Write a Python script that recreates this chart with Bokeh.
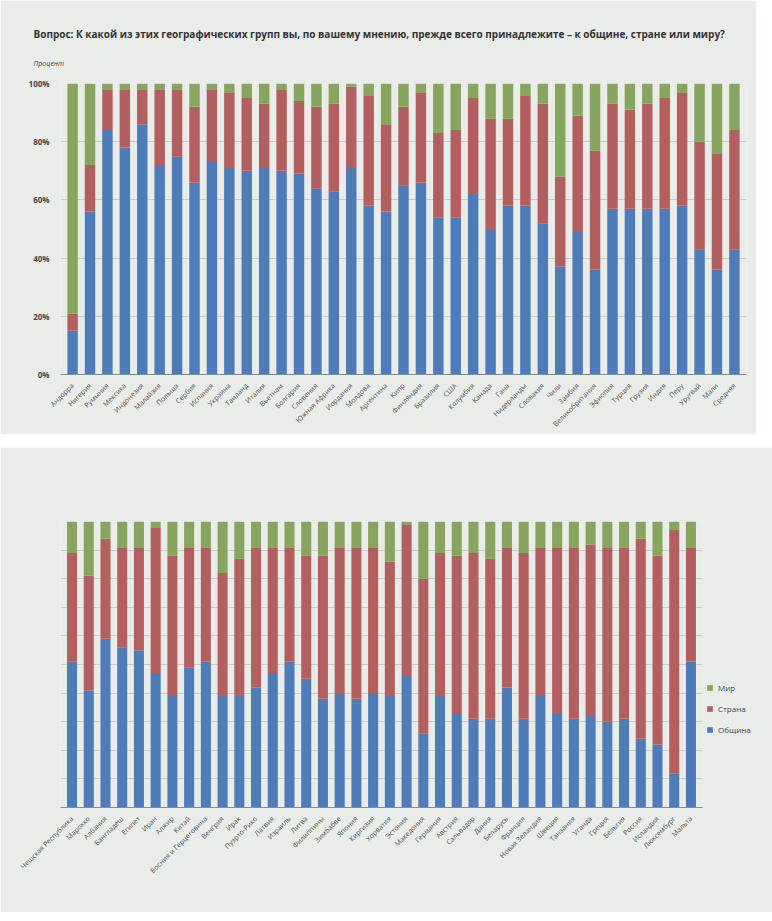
import math
from bokeh.plotting import figure
from bokeh.layouts import column
from bokeh.models import Title, Legend, LegendItem, FixedTicker, Range1d, FactorRange
from bokeh.embed import file_html
from bokeh.resources import INLINE

# ---------------- data ----------------
series_names = ["Община", "Страна", "Мир"]
colors = ["#4d7cb8", "#b45f5f", "#88a55f"]

top_categories = ["Андорра", "Нигерия", "Румыния", "Мексика", "Индонезия",
                  "Малайзия", "Польша", "Сербия", "Испания", "Украина", "Таиланд", "Италия",
                  "Вьетнам", "Болгария", "Словения", "Южная Африка", "Иордания", "Молдова",
                  "Аргентина", "Кипр", "Финляндия", "Бразилия", "США", "Колумбия", "Канада",
                  "Гана", "Нидерланды", "Словакия", "Чили", "Замбия", "Великобритания",
                  "Эфиопия", "Турция", "Грузия", "Индия", "Перу", "Уругвай", "Мали", "Средняя"]
top_community = [15, 56, 84, 78, 86, 72, 75, 66, 73, 71, 70, 71, 70, 69, 64, 63, 71, 58, 56, 65,
                 66, 54, 54, 62, 50, 58, 58, 52, 37, 49, 36, 57, 57, 57, 57, 58, 43, 36, 43]
top_country = [6, 16, 14, 20, 12, 26, 23, 26, 25, 26, 25, 22, 28, 25, 28, 30, 28, 38, 30, 27,
               31, 29, 30, 33, 38, 30, 38, 41, 31, 40, 41, 36, 34, 36, 38, 39, 37, 40, 41]
top_world = [79, 28, 2, 2, 2, 2, 2, 8, 2, 3, 5, 7, 2, 6, 8, 7, 1, 4, 14, 8,
             3, 17, 16, 5, 12, 12, 4, 7, 32, 11, 23, 7, 9, 7, 5, 3, 20, 24, 16]

bottom_categories = ["Чешская Республика", "Марокко", "Албания", "Бангладеш", "Египет", "Иран",
                     "Алжир", "Китай", "Босния и Герцеговина", "Венгрия", "Ирак", "Пуэрто-Рико",
                     "Латвия", "Израиль", "Литва", "Филиппины", "Зимбабве", "Япония", "Киргизия",
                     "Хорватия", "Эстония", "Македония", "Германия", "Австрия", "Сальвадор",
                     "Дания", "Беларусь", "Франция", "Новая Зеландия", "Швеция", "Танзания",
                     "Уганда", "Греция", "Бельгия", "Россия", "Исландия", "Люксембург", "Мальта"]
bottom_community = [51, 41, 59, 56, 55, 47, 39, 49, 51, 39, 39, 42, 47, 51, 45, 38, 40, 38, 40,
                    39, 46, 26, 39, 33, 31, 31, 42, 31, 39, 33, 31, 32, 30, 31, 24, 22, 12, 51]
bottom_country = [38, 40, 35, 35, 36, 51, 49, 42, 40, 43, 48, 49, 44, 40, 43, 50, 51, 53, 51,
                  47, 53, 54, 50, 55, 58, 56, 49, 58, 52, 58, 60, 60, 61, 60, 70, 66, 85, 40]
bottom_world = [11, 19, 6, 9, 9, 2, 12, 9, 9, 18, 13, 9, 9, 9, 12, 12, 9, 9, 9,
                14, 1, 20, 11, 12, 11, 13, 9, 11, 9, 9, 9, 8, 9, 9, 6, 12, 3, 9]

title_text = ("Вопрос: К какой из этих географических групп вы, по вашему мнению, "
              "прежде всего принадлежите – к общине, стране или миру?")
y_title_text = "Процент"
top_ticks = [0, 20, 40, 60, 80, 100]
top_tick_labels = ["0%", "20%", "40%", "60%", "80%", "100%"]
bottom_ticks = [0, 10, 20, 30, 40, 50, 60, 70, 80, 90, 100]

PANEL = "#eaecea"
FONT = "Open Sans"


def style_common(p):
    p.background_fill_color = PANEL
    p.border_fill_color = PANEL
    p.outline_line_color = None
    p.xgrid.grid_line_color = None
    p.ygrid.grid_line_color = "#c9cbc9"
    p.ygrid.grid_line_width = 1
    p.xaxis.major_label_orientation = math.pi / 4
    p.xaxis.major_label_text_font = FONT
    p.xaxis.major_label_text_font_size = "7px"
    p.xaxis.major_label_text_color = "#555555"
    p.xaxis.axis_line_color = "#8a8c8a"
    p.xaxis.major_tick_line_color = None
    p.xaxis.minor_tick_line_color = None
    p.xaxis.major_label_standoff = 4


def stack(p, cats, c, k, w):
    data = {"cat": cats, "Община": c, "Страна": k, "Мир": w}
    rs = p.vbar_stack(series_names, x="cat", width=0.6, color=colors, source=data,
                      line_color=None)
    return rs


# ---------------- top chart ----------------
p1 = figure(x_range=FactorRange(*top_categories, range_padding=0.01), y_range=Range1d(0, 100),
            frame_width=686, frame_height=291, output_backend="svg", toolbar_location=None,
            min_border_left=60, min_border_right=10, min_border_top=83, min_border_bottom=58)
stack(p1, top_categories, top_community, top_country, top_world)
style_common(p1)
p1.yaxis.ticker = FixedTicker(ticks=top_ticks)
p1.yaxis.major_label_overrides = {t: l for t, l in zip(top_ticks, top_tick_labels)}
p1.yaxis.axis_line_color = None
p1.yaxis.major_tick_line_color = None
p1.yaxis.minor_tick_line_color = None
p1.yaxis.major_label_text_font = FONT
p1.yaxis.major_label_text_font_size = "8px"
p1.yaxis.major_label_text_font_style = "bold"
p1.yaxis.major_label_text_color = "#444444"
p1.add_layout(Title(text=y_title_text, text_font=FONT, text_font_size="7px",
                    text_font_style="italic", text_color="#444444", align="left",
                    offset=-27, standoff=32), "above")
p1.add_layout(Title(text=title_text, text_font=FONT, text_font_size="10px",
                    text_font_style="bold", text_color="#333333", align="left",
                    offset=-27, standoff=0), "above")

# ---------------- bottom chart ----------------
p2 = figure(x_range=FactorRange(*bottom_categories, range_padding=0.01), y_range=Range1d(0, 100),
            frame_width=642, frame_height=286, output_backend="svg", toolbar_location=None,
            min_border_left=51, min_border_right=63, min_border_top=74, min_border_bottom=105)
rs = stack(p2, bottom_categories, bottom_community, bottom_country, bottom_world)
style_common(p2)
p2.yaxis.visible = False
p2.ygrid.ticker = FixedTicker(ticks=bottom_ticks)
legend = Legend(items=[LegendItem(label=series_names[i], renderers=[rs[i]]) for i in (2, 1, 0)],
                location=(4, 72), label_text_font=FONT, label_text_font_size="8px",
                label_text_color="#444444", glyph_width=7, glyph_height=7,
                label_height=10, spacing=10, padding=2, margin=0,
                background_fill_alpha=0, border_line_color=None)
p2.add_layout(legend, "right")

layout = column(p1, p2, spacing=13)
open("out.html", "w").write(file_html(layout, INLINE))
